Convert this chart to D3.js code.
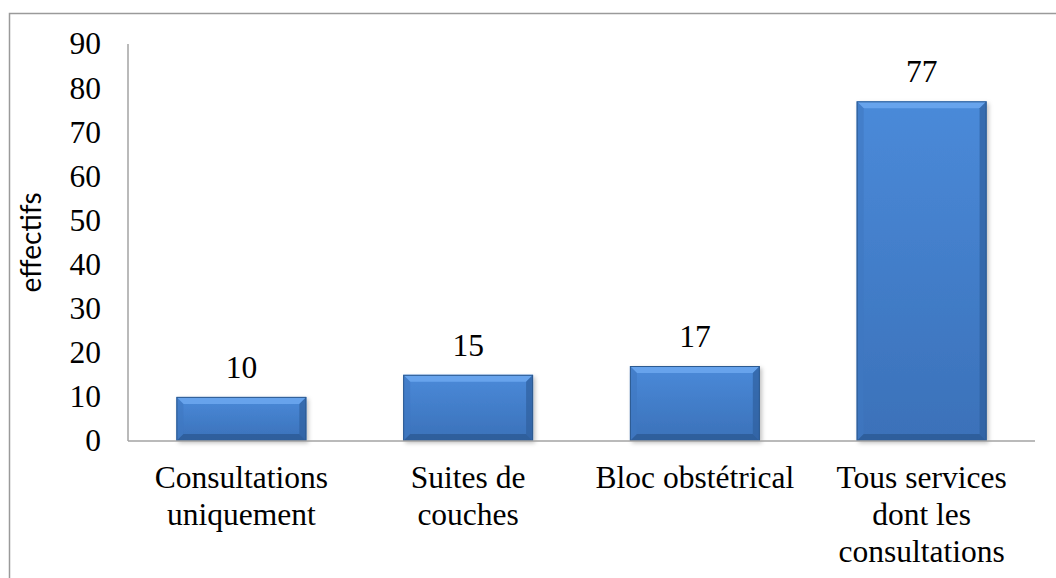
<!DOCTYPE html>
<html>
<head>
<meta charset="utf-8">
<script src="https://cdn.jsdelivr.net/npm/d3@7"></script>
<style>
  html, body { margin: 0; padding: 0; background: #fff; overflow: hidden; }
</style>
</head>
<body>
<div id="chart"></div>
<script>
// data
var categories = ["Consultations\nuniquement", "Suites de\ncouches", "Bloc obstétrical", "Tous services\ndont les\nconsultations"];
var values = [10, 15, 17, 77];
var yTicks = [0, 10, 20, 30, 40, 50, 60, 70, 80, 90];
var yTitle = "effectifs";

function renderBarChart() {

  // Exposed variables
  var attrs = {
    svgWidth: 1056,
    svgHeight: 578,
    marginTop: 44,
    marginLeft: 128,
    plotRight: 1035,
    plotBottom: 441,
    serifFont: "'Liberation Serif', 'Times New Roman', serif",
    sansFont: "Lato, 'Open Sans', sans-serif",
    axisColor: '#a3a3a3',
    textFill: '#000'
  };

  var svg = d3.select('#chart').append('svg')
    .attr('width', attrs.svgWidth)
    .attr('height', attrs.svgHeight);

  // outer frame (runs off the right / bottom edges)
  svg.append('rect')
    .attr('x', 9.5).attr('y', 13.5)
    .attr('width', 1200).attr('height', 700)
    .attr('fill', 'none')
    .attr('stroke', '#9a9a9a')
    .attr('stroke-width', 1.5);

  // scales
  var x = d3.scaleBand()
    .domain(categories)
    .range([attrs.marginLeft, attrs.plotRight])
    .paddingInner(0.427)
    .paddingOuter(0.2135);

  var y = d3.scaleLinear()
    .domain([0, 90])
    .range([attrs.plotBottom, attrs.marginTop]);

  // gradients
  var defs = svg.append('defs');
  var g1 = defs.append('linearGradient').attr('id', 'barFill')
    .attr('x1', 0).attr('y1', 0).attr('x2', 0).attr('y2', 1);
  g1.append('stop').attr('offset', '0%').attr('stop-color', '#4a8ad9');
  g1.append('stop').attr('offset', '100%').attr('stop-color', '#3b71b9');

  var shadow = defs.append('filter').attr('id', 'shadow')
    .attr('x', '-10%').attr('y', '-10%').attr('width', '130%').attr('height', '130%');
  shadow.append('feDropShadow')
    .attr('dx', 2).attr('dy', 2).attr('stdDeviation', 2)
    .attr('flood-color', '#000').attr('flood-opacity', 0.25);

  // y axis (labels only, no ticks)
  svg.append('g').selectAll('text')
    .data(yTicks)
    .enter().append('text')
    .attr('x', 101)
    .attr('y', function (d) { return y(d); })
    .attr('dy', '0.33em')
    .attr('text-anchor', 'end')
    .attr('font-family', attrs.serifFont)
    .attr('font-size', 31.5)
    .attr('fill', attrs.textFill)
    .text(function (d) { return d; });

  svg.append('text')
    .attr('transform', 'translate(41,' + ((y(0) + y(90)) / 2) + ') rotate(-90)')
    .attr('text-anchor', 'middle')
    .attr('font-family', attrs.sansFont)
    .attr('font-size', 28)
    .attr('fill', attrs.textFill)
    .text(yTitle);

  // bars
  var bevel = 7;
  var bars = svg.append('g').selectAll('g.bar')
    .data(values)
    .enter().append('g')
    .attr('class', 'bar');

  bars.each(function (d, i) {
    var g = d3.select(this);
    var x0 = x(categories[i]), w = x.bandwidth();
    var y0 = y(d), h = y(0) - y(d);
    var x1 = x0 + w, y1 = y0 + h;
    var b = Math.min(bevel, h / 2);

    g.append('rect')
      .attr('x', x0).attr('y', y0).attr('width', w).attr('height', h)
      .attr('fill', 'url(#barFill)')
      .attr('filter', 'url(#shadow)');

    // bevel faces
    var faces = [
      { pts: [[x0, y0], [x1, y0], [x1 - b, y0 + b], [x0 + b, y0 + b]], fill: '#6aa6ee', op: 0.9 },
      { pts: [[x0, y0], [x0 + b, y0 + b], [x0 + b, y1 - b], [x0, y1]], fill: '#3f78c2', op: 0.6 },
      { pts: [[x1, y0], [x1, y1], [x1 - b, y1 - b], [x1 - b, y0 + b]], fill: '#2f5f9e', op: 0.7 },
      { pts: [[x0, y1], [x0 + b, y1 - b], [x1 - b, y1 - b], [x1, y1]], fill: '#2c5a95', op: 0.8 }
    ];
    g.selectAll('polygon')
      .data(faces)
      .enter().append('polygon')
      .attr('points', function (f) { return f.pts.map(function (p) { return p.join(','); }).join(' '); })
      .attr('fill', function (f) { return f.fill; })
      .attr('opacity', function (f) { return f.op; });

    g.append('rect')
      .attr('x', x0 + 0.5).attr('y', y0 + 0.5).attr('width', w - 1).attr('height', h - 1)
      .attr('fill', 'none')
      .attr('stroke', '#2d5a90')
      .attr('stroke-width', 1);
  });

  // value labels
  svg.append('g').selectAll('text')
    .data(values)
    .enter().append('text')
    .attr('x', function (d, i) { return x(categories[i]) + x.bandwidth() / 2; })
    .attr('y', function (d) { return y(d) - 19; })
    .attr('text-anchor', 'middle')
    .attr('font-family', attrs.serifFont)
    .attr('font-size', 31.5)
    .attr('fill', attrs.textFill)
    .text(function (d) { return d; });

  // axis lines
  svg.append('line')
    .attr('x1', attrs.marginLeft).attr('x2', attrs.marginLeft)
    .attr('y1', y(90)).attr('y2', y(0))
    .attr('stroke', attrs.axisColor).attr('stroke-width', 1.5);
  svg.append('line')
    .attr('x1', attrs.marginLeft).attr('x2', attrs.plotRight)
    .attr('y1', y(0)).attr('y2', y(0))
    .attr('stroke', attrs.axisColor).attr('stroke-width', 1.5);

  // category labels
  var labels = svg.append('g').selectAll('text')
    .data(categories)
    .enter().append('text')
    .attr('x', function (d) { return x(d) + x.bandwidth() / 2; })
    .attr('y', 488)
    .attr('text-anchor', 'middle')
    .attr('font-family', attrs.serifFont)
    .attr('font-size', 31.5)
    .attr('fill', attrs.textFill);

  labels.each(function (d) {
    var t = d3.select(this);
    d.split('\n').forEach(function (line, j) {
      t.append('tspan')
        .attr('x', t.attr('x'))
        .attr('dy', j === 0 ? 0 : 37)
        .text(line);
    });
  });
}

renderBarChart();
</script>
</body>
</html>
